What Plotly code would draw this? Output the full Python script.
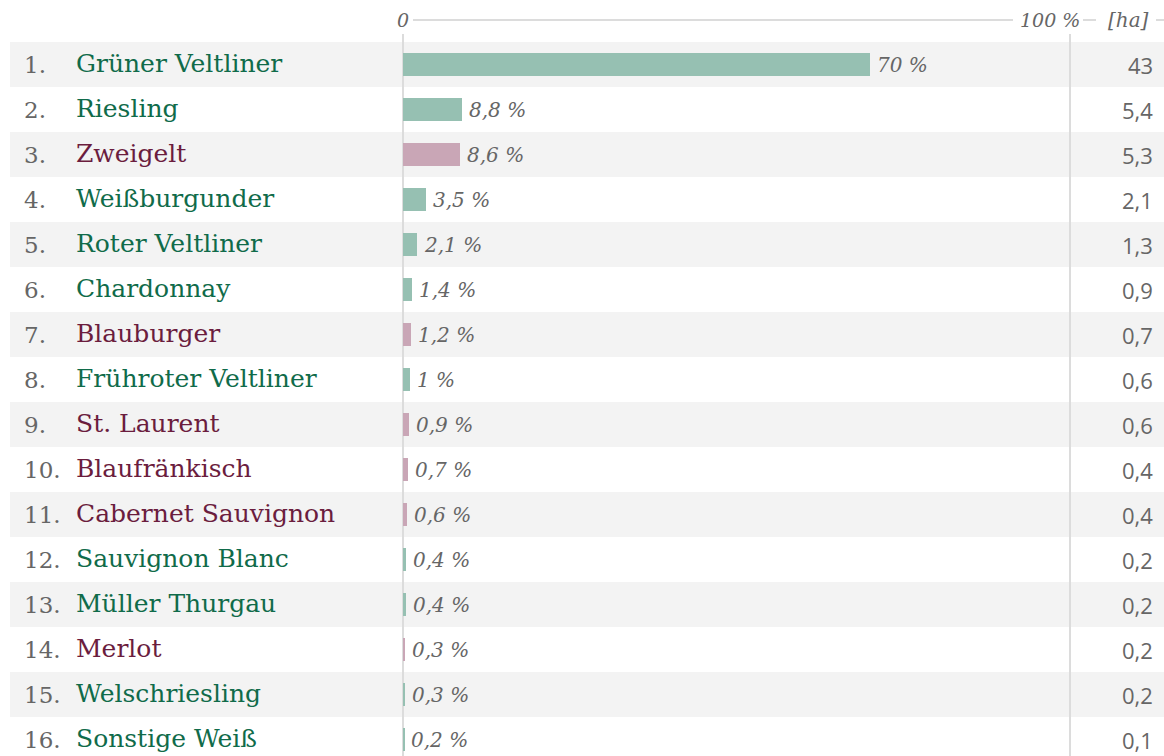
import plotly.graph_objects as go

# ---- data ----
ranks = [f"{i}." for i in range(1, 17)]
varieties = ["Grüner Veltliner", "Riesling", "Zweigelt", "Weißburgunder", "Roter Veltliner",
             "Chardonnay", "Blauburger", "Frühroter Veltliner", "St. Laurent", "Blaufränkisch",
             "Cabernet Sauvignon", "Sauvignon Blanc", "Müller Thurgau", "Merlot",
             "Welschriesling", "Sonstige Weiß"]
wine_type = ["w", "w", "r", "w", "w", "w", "r", "w", "r", "r", "r", "w", "w", "r", "w", "w"]
share_pct = [70, 8.8, 8.6, 3.5, 2.1, 1.4, 1.2, 1, 0.9, 0.7, 0.6, 0.4, 0.4, 0.3, 0.3, 0.2]
area_ha = [43, 5.4, 5.3, 2.1, 1.3, 0.9, 0.7, 0.6, 0.6, 0.4, 0.4, 0.2, 0.2, 0.2, 0.2, 0.1]
axis_labels = ["0", "100 %", "[ha]"]

# ---- style ----
W, H = 1164, 756
TOP = 42            # top of row area (px)
ROW = 45            # row height (px)
X0_PX, X100_PX = 403, 1070
ppu = (X100_PX - X0_PX) / 100.0
x_range = [-X0_PX / ppu, (W - X0_PX) / ppu]
n = len(varieties)
visible_rows = (H - TOP) / ROW
y_range = [visible_rows - 0.5, -0.5]

name_col = {"w": "#106b4a", "r": "#6b1d3e"}
bar_col = {"w": "#96c0b2", "r": "#c9a6b6"}
GRAY = "#666666"
SERIF = "DejaVu Serif"
SANS = "Open Sans"


def px_x(p):
    return p / W


def px_y(p):
    return 1 - p / H


def fmt(v):
    return f"{v:g}".replace(".", ",")


fig = go.Figure()
fig.add_trace(go.Bar(
    y=list(range(n)), x=share_pct, orientation="h", width=0.5,
    marker=dict(color=[bar_col[t] for t in wine_type], line=dict(width=0)),
    hoverinfo="skip", showlegend=False,
))

shapes = []
# alternating row bands
for i in range(n):
    if i % 2 == 0:
        shapes.append(dict(type="rect", xref="paper", yref="y", x0=px_x(10), x1=1,
                           y0=i - 0.5, y1=i + 0.5, fillcolor="#f3f3f3",
                           line=dict(width=0), layer="below"))
# vertical axis lines at 0 and 100
for xv in (0, 100):
    shapes.append(dict(type="line", xref="x", yref="paper", x0=xv, x1=xv,
                       y0=0, y1=px_y(34), line=dict(color="#dcdcdc", width=2),
                       layer="below"))
# header line segments
hy = px_y(20)
for a, b in [(413, 1013), (1083, 1096), (1156, 1164)]:
    shapes.append(dict(type="line", xref="paper", yref="paper", x0=px_x(a), x1=px_x(b),
                       y0=hy, y1=hy, line=dict(color="#dcdcdc", width=2)))

ann = []
for i in range(n):
    ann.append(dict(x=px_x(22), y=i, xref="paper", yref="y", text=ranks[i],
                    showarrow=False, xanchor="left", yanchor="middle",
                    font=dict(family=SERIF, size=23, color=GRAY)))
    ann.append(dict(x=px_x(74), y=i, xref="paper", yref="y", text=varieties[i],
                    showarrow=False, xanchor="left", yanchor="middle", yshift=1,
                    font=dict(family=SERIF, size=25, color=name_col[wine_type[i]])))
    ann.append(dict(x=share_pct[i], y=i, xref="x", yref="y",
                    text=f"<i>{fmt(share_pct[i])} %</i>", xshift=5,
                    showarrow=False, xanchor="left", yanchor="middle",
                    font=dict(family=SERIF, size=20, color=GRAY)))
    ann.append(dict(x=px_x(1155), y=i, xref="paper", yref="y", text=fmt(area_ha[i]),
                    showarrow=False, xanchor="right", yanchor="middle",
                    font=dict(family=SANS, size=22, color=GRAY)))

ann.append(dict(x=0, y=hy, xref="x", yref="paper", text=f"<i>{axis_labels[0]}</i>",
                showarrow=False, xanchor="center", yanchor="middle",
                font=dict(family=SERIF, size=19, color=GRAY)))
ann.append(dict(x=px_x(1082), y=hy, xref="paper", yref="paper", text=f"<i>{axis_labels[1]}</i>",
                showarrow=False, xanchor="right", yanchor="middle",
                font=dict(family=SERIF, size=19, color=GRAY)))
ann.append(dict(x=px_x(1128), y=hy, xref="paper", yref="paper", text=f"<i>{axis_labels[2]}</i>",
                showarrow=False, xanchor="center", yanchor="middle",
                font=dict(family=SERIF, size=20, color=GRAY)))

fig.update_layout(
    width=W, height=H, margin=dict(l=0, r=0, t=0, b=0),
    paper_bgcolor="white", plot_bgcolor="rgba(0,0,0,0)",
    xaxis=dict(range=x_range, visible=False, fixedrange=True),
    yaxis=dict(range=y_range, visible=False, domain=[0, 1 - TOP / H], fixedrange=True),
    shapes=shapes, annotations=ann, bargap=0,
)

fig.write_html(
    "out.html",
    config={"displayModeBar": False},
    post_script="document.body.style.margin='0';document.body.style.overflow='hidden';",
)
